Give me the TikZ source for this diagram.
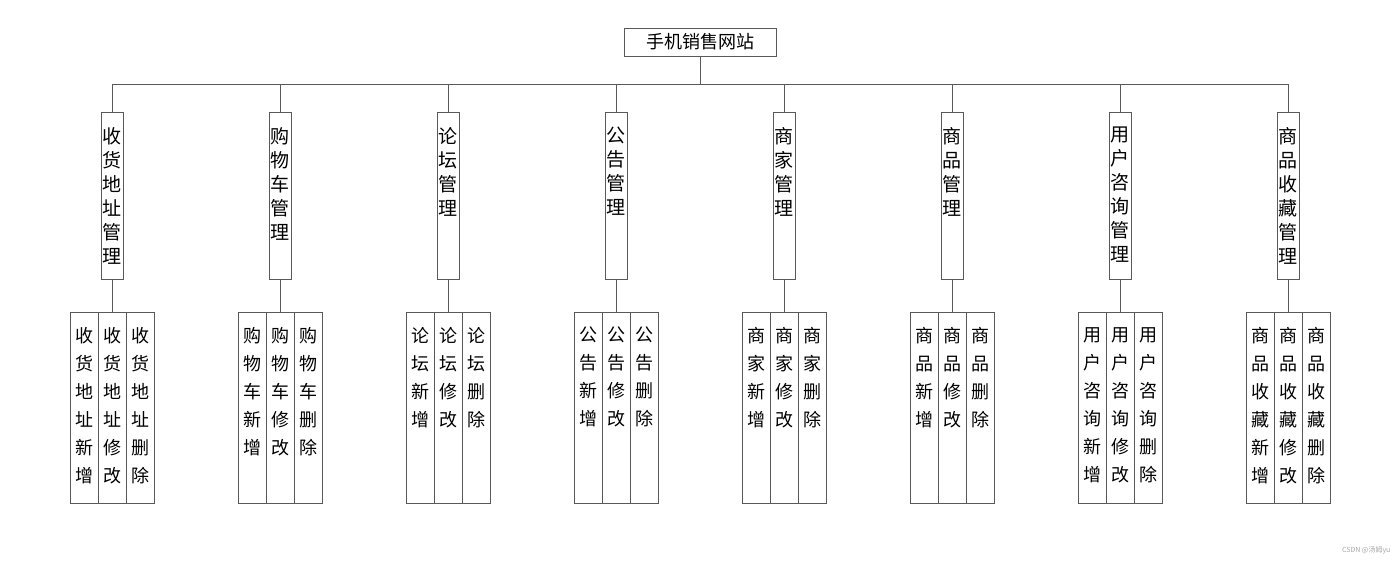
\documentclass[tikz,border=0pt]{standalone}
\usepackage{fontspec}
\setmainfont{Liberation Sans}
\newfontfamily\cjk{Noto Sans CJK SC}
\XeTeXlinebreaklocale "zh"
\XeTeXlinebreakskip=0pt plus 1pt
\usetikzlibrary{positioning}

\tikzset{
  box/.style={draw=black!65, line width=0.7pt, inner sep=0pt},
  midbox/.style={box, minimum width=22pt, minimum height=167pt, anchor=north},
  leafbox/.style={box, minimum width=28pt, minimum height=191pt, anchor=north},
  midtext/.style={anchor=north, yshift=-15pt, inner sep=0pt, text width=19pt, align=center,
    font=\cjk\fontsize{19}{24}\selectfont},
  leaftext/.style={anchor=north, yshift=-15pt, inner sep=0pt, text width=18pt, align=center,
    font=\cjk\fontsize{18}{28}\selectfont},
  link/.style={draw=black!65, line width=0.7pt},
}

\begin{document}
\begin{tikzpicture}[x=1pt, y=-1pt]
  \useasboundingbox (0,0) rectangle (1400,560);
  % Root
  \node[box, minimum width=152pt, minimum height=28pt, font=\cjk\fontsize{18}{22}\selectfont]
    (root) at (700,42) {手机销售网站};
  \coordinate (bus) at (700,84);
  \draw[link] (root.south) -- (bus);
  % Modules and their operations
  \foreach \i/\name/\short [evaluate=\i as \x using 112+168*(\i-1)] in
    {1/收货地址管理/收货地址, 2/购物车管理/购物车, 3/论坛管理/论坛, 4/公告管理/公告,
     5/商家管理/商家, 6/商品管理/商品, 7/用户咨询管理/用户咨询, 8/商品收藏管理/商品收藏}{
    \node[midbox, label={[midtext]north:\name}] (m\i) at (\x,112) {};
    \draw[link] (m\i.north) -- (m\i.north |- bus);
    \node[leafbox, label={[leaftext]north:\short 新增}] (l\i a) at (\x-28,312) {};
    \node[leafbox, label={[leaftext]north:\short 修改}] (l\i b) at (\x,312) {};
    \node[leafbox, label={[leaftext]north:\short 删除}] (l\i c) at (\x+28,312) {};
    \draw[link] (m\i.south) -- (l\i b.north);
  }
  \draw[link] (m1.north |- bus) -- (m8.north |- bus);
  % Watermark
  \node[anchor=east, text=black!35, font=\cjk\fontsize{7}{8}\selectfont] (mark) at (1394,550) {CSDN @汤姆yu};
\end{tikzpicture}
\end{document}
